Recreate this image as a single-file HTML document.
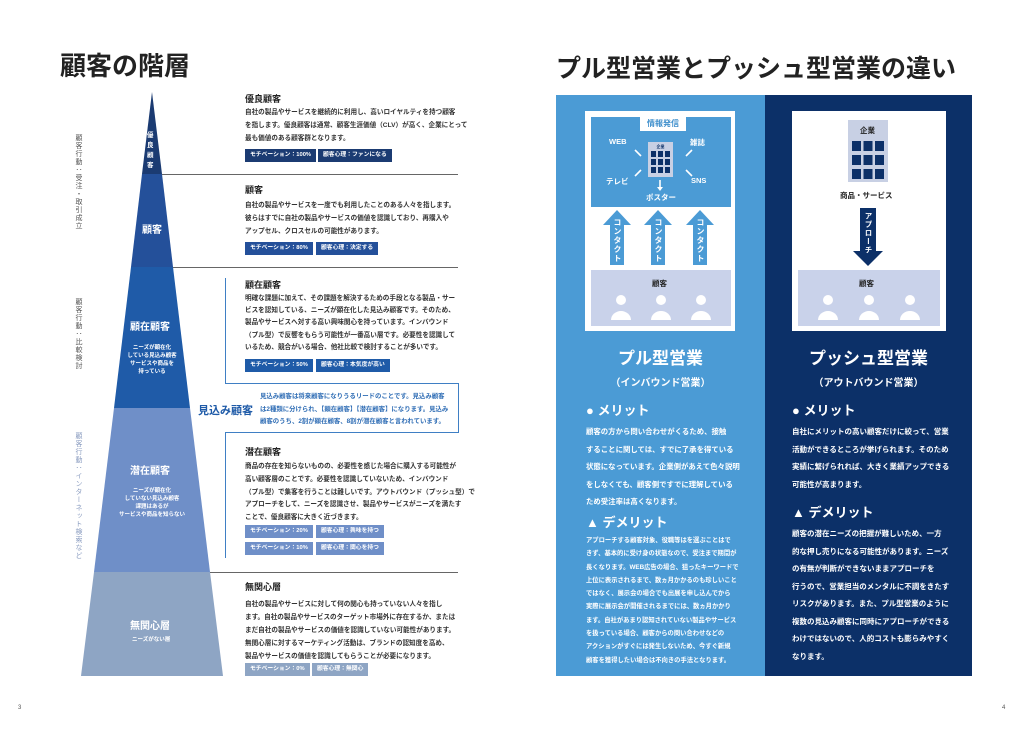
<!DOCTYPE html>
<html><head><meta charset="utf-8"><style>
*{margin:0;padding:0;box-sizing:border-box}
body{width:1024px;height:729px;background:#fff;position:relative;overflow:hidden;font-family:"Liberation Sans","Noto Sans CJK JP",sans-serif;color:#333}
.a{position:absolute;white-space:nowrap}
.h{font-size:9px;font-weight:bold;color:#222}
.b{font-size:6.6px;line-height:13px;color:#333;font-weight:bold}
.t{position:absolute;height:13px;font-size:5.8px;color:#fff;font-weight:bold;line-height:13px;padding:0 5px;white-space:nowrap}
.v{position:absolute;writing-mode:vertical-rl;font-size:7px;letter-spacing:1px}
.w{color:#fff;font-weight:bold}
.vt{position:absolute;writing-mode:vertical-rl;font-size:8px;color:#fff;font-weight:bold;letter-spacing:1px}
</style></head><body>
<div class="a" style="left:60px;top:46px;font-size:26px;font-weight:bold;color:#222">顧客の階層</div>
<div class="a" style="left:556px;top:49px;font-size:25px;font-weight:bold;color:#222">プル型営業とプッシュ型営業の違い</div>

<svg class="a" style="left:0;top:0" width="512" height="729">
<polygon points="152,92 162,174 142,174" fill="#1b3b72"/>
<polygon points="142,174 162,174 173,267 131,267" fill="#24509a"/>
<polygon points="131,267 173,267 190,408 114,408" fill="#1f5ba8"/>
<polygon points="114,408 190,408 210,572 94,572" fill="#6f8fc8"/>
<polygon points="94,572 210,572 223,676 81,676" fill="#8ea5c4"/>
<g stroke="#666" stroke-width="1"><line x1="162" y1="174.5" x2="458" y2="174.5"/><line x1="173" y1="267.5" x2="458" y2="267.5"/><line x1="210" y1="572.5" x2="458" y2="572.5"/></g>
<g stroke="#3f7fc4" stroke-width="1" fill="none"><polyline points="225.5,278 225.5,383.5 458.5,383.5 458.5,432.5 225.5,432.5 225.5,558"/></g>
</svg>
<div class="a w" style="left:147px;top:131px;font-size:6.5px;line-height:10px;width:10px;white-space:normal">優<br>良<br>顧<br>客</div>
<div class="a w" style="left:142px;top:221px;font-size:10px">顧客</div>
<div class="a w" style="left:130px;top:318px;font-size:10px">顧在顧客</div>
<div class="a w" style="left:120px;top:344px;font-size:5.5px;line-height:8px;text-align:center;width:64px;white-space:normal">ニーズが顕在化<br>している見込み顧客<br>サービスや商品を<br>持っている</div>
<div class="a w" style="left:130px;top:462px;font-size:10px">潜在顧客</div>
<div class="a w" style="left:112px;top:487px;font-size:5.5px;line-height:8px;text-align:center;width:80px">ニーズが顕在化<br>していない見込み顧客<br>課題はあるが<br>サービスや商品を知らない</div>
<div class="a w" style="left:130px;top:617px;font-size:10px">無関心層</div>
<div class="a w" style="left:132px;top:635px;font-size:5.5px">ニーズがない層</div>

<div class="v" style="left:73px;top:134px;color:#555">顧客行動：受注・取引成立</div>
<div class="v" style="left:73px;top:298px;color:#555">顧客行動：比較検討</div>
<div class="v" style="left:73px;top:432px;color:#8a9cc0">顧客行動：インターネット検索など</div>

<div class="a h" style="left:245px;top:92px">優良顧客</div>
<div class="a b" style="left:245px;top:106px">自社の製品やサービスを継続的に利用し、高いロイヤルティを持つ顧客<br>を指します。優良顧客は通常、顧客生涯価値（CLV）が高く、企業にとって<br>最も価値のある顧客群となります。</div>
<div class="t" style="left:245px;top:149px;background:#1b3b72">モチベーション：100%</div>
<div class="t" style="left:318px;top:149px;background:#1b3b72">顧客心理：ファンになる</div>

<div class="a h" style="left:245px;top:183px">顧客</div>
<div class="a b" style="left:245px;top:199px">自社の製品やサービスを一度でも利用したことのある人々を指します。<br>彼らはすでに自社の製品やサービスの価値を認識しており、再購入や<br>アップセル、クロスセルの可能性があります。</div>
<div class="t" style="left:245px;top:242px;background:#24509a">モチベーション：80%</div>
<div class="t" style="left:316px;top:242px;background:#24509a">顧客心理：決定する</div>

<div class="a h" style="left:245px;top:278px">顧在顧客</div>
<div class="a b" style="left:245px;top:293px;line-height:12.2px">明確な課題に加えて、その課題を解決するための手段となる製品・サー<br>ビスを認知している、ニーズが顕在化した見込み顧客です。そのため、<br>製品やサービスへ対する高い興味関心を持っています。インバウンド<br>（プル型）で反響をもらう可能性が一番高い層です。必要性を認識して<br>いるため、競合がいる場合、他社比較で検討することが多いです。</div>
<div class="t" style="left:245px;top:359px;background:#1f5ba8">モチベーション：50%</div>
<div class="t" style="left:316px;top:359px;background:#1f5ba8">顧客心理：本気度が高い</div>

<div class="a" style="left:198px;top:402px;font-size:11px;font-weight:bold;color:#1f5ba8">見込み顧客</div>
<div class="a b" style="left:260px;top:391px;line-height:12.5px;color:#2f6db5;font-size:6.4px">見込み顧客は将来顧客になりうるリードのことです。見込み顧客<br>は2種類に分けられ、【顕在顧客】【潜在顧客】になります。見込み<br>顧客のうち、2割が顕在顧客、8割が潜在顧客と言われています。</div>

<div class="a h" style="left:245px;top:445px">潜在顧客</div>
<div class="a b" style="left:245px;top:461px;line-height:12.8px">商品の存在を知らないものの、必要性を感じた場合に購入する可能性が<br>高い顧客層のことです。必要性を認識していないため、インバウンド<br>（プル型）で集客を行うことは難しいです。アウトバウンド（プッシュ型）で<br>アプローチをして、ニーズを認識させ、製品やサービスがニーズを満たす<br>ことで、優良顧客に大きく近づきます。</div>
<div class="t" style="left:245px;top:525px;background:#6f8fc8">モチベーション：20%</div>
<div class="t" style="left:316px;top:525px;background:#6f8fc8">顧客心理：興味を持つ</div>
<div class="t" style="left:245px;top:542px;background:#6f8fc8">モチベーション：10%</div>
<div class="t" style="left:316px;top:542px;background:#6f8fc8">顧客心理：関心を持つ</div>

<div class="a h" style="left:245px;top:580px">無関心層</div>
<div class="a b" style="left:245px;top:598px">自社の製品やサービスに対して何の関心も持っていない人々を指し<br>ます。自社の製品やサービスのターゲット市場外に存在するか、または<br>まだ自社の製品やサービスの価値を認識していない可能性があります。<br>無関心層に対するマーケティング活動は、ブランドの認知度を高め、<br>製品やサービスの価値を認識してもらうことが必要になります。</div>
<div class="t" style="left:245px;top:663px;background:#8ea5c4">モチベーション：0%</div>
<div class="t" style="left:312px;top:663px;background:#8ea5c4">顧客心理：無関心</div>

<div class="a" style="left:18px;top:705px;font-size:6px;color:#555">3</div>
<div class="a" style="left:1002px;top:705px;font-size:6px;color:#555">4</div>

<div class="a" style="left:556px;top:95px;width:209px;height:581px;background:#4b9bd5"></div>
<div class="a" style="left:765px;top:95px;width:207px;height:581px;background:#0c3068"></div>
<div class="a" style="left:585px;top:111px;width:150px;height:220px;background:#fff"></div>
<div class="a" style="left:591px;top:117px;width:140px;height:90px;background:#4b9bd5"></div>
<div class="a" style="left:640px;top:117px;width:46px;height:14px;background:#fff;color:#3f8fcc;font-size:8px;font-weight:bold;text-align:center;line-height:14px">情報発信</div>
<div class="a w" style="left:609px;top:137px;font-size:7.5px">WEB</div>
<div class="a w" style="left:690px;top:137px;font-size:7.5px">雑誌</div>
<div class="a w" style="left:606px;top:176px;font-size:7.5px">テレビ</div>
<div class="a w" style="left:691px;top:176px;font-size:7.5px">SNS</div>
<div class="a w" style="left:646px;top:192px;font-size:7.5px">ポスター</div>
<svg class="a" style="left:585px;top:110px" width="150" height="100">
<g stroke="#fff" stroke-width="1.6"><line x1="50" y1="40" x2="56" y2="46"/><line x1="101" y1="46" x2="107" y2="40"/><line x1="50" y1="66" x2="56" y2="60"/><line x1="101" y1="60" x2="107" y2="66"/><line x1="75" y1="70" x2="75" y2="79"/></g>
<polygon points="72,77 78,77 75,81" fill="#fff"/>
<rect x="63" y="32" width="25" height="35" fill="#c8d0e4"/>
<text x="75.5" y="38" font-size="4" text-anchor="middle" fill="#0c3068" font-weight="bold">企業</text>
<g fill="#0c3068"><rect x="66" y="41" width="5" height="6"/><rect x="73" y="41" width="5" height="6"/><rect x="80" y="41" width="5" height="6"/><rect x="66" y="49" width="5" height="6"/><rect x="73" y="49" width="5" height="6"/><rect x="80" y="49" width="5" height="6"/><rect x="66" y="57" width="5" height="6"/><rect x="73" y="57" width="5" height="6"/><rect x="80" y="57" width="5" height="6"/></g>
</svg>
<svg class="a" style="left:585px;top:205px" width="150" height="125">
<g fill="#4b9bd5"><polygon points="32,5 46,20 39,20 39,60 25,60 25,20 18,20"/><polygon points="73,5 87,20 80,20 80,60 66,60 66,20 59,20"/><polygon points="115,5 129,20 122,20 122,60 108,60 108,20 101,20"/></g>
<rect x="6" y="65" width="140" height="56" fill="#c9d2ea"/>
<g fill="#fff"><circle cx="36" cy="95" r="5"/><path d="M26,115 a10,9 0 0 1 20,0z"/><circle cx="76" cy="95" r="5"/><path d="M66,115 a10,9 0 0 1 20,0z"/><circle cx="116" cy="95" r="5"/><path d="M106,115 a10,9 0 0 1 20,0z"/></g>
</svg>
<div class="vt" style="left:612px;top:218px">コンタクト</div>
<div class="vt" style="left:653px;top:218px">コンタクト</div>
<div class="vt" style="left:695px;top:218px">コンタクト</div>
<div class="a" style="left:652px;top:278px;font-size:7.5px;font-weight:bold;color:#222">顧客</div>

<div class="a" style="left:792px;top:111px;width:154px;height:220px;background:#fff"></div>
<svg class="a" style="left:792px;top:111px" width="154" height="220">
<rect x="56" y="9" width="40" height="62" fill="#c8d0e4"/>
<g fill="#0c3068"><rect x="60" y="30" width="9" height="10"/><rect x="71.5" y="30" width="9" height="10"/><rect x="83" y="30" width="9" height="10"/><rect x="60" y="44" width="9" height="10"/><rect x="71.5" y="44" width="9" height="10"/><rect x="83" y="44" width="9" height="10"/><rect x="60" y="58" width="9" height="10"/><rect x="71.5" y="58" width="9" height="10"/><rect x="83" y="58" width="9" height="10"/></g>
<polygon points="68,97 84,97 84,140 91,140 76,155 61,140 68,140" fill="#0c3068"/>
<rect x="6" y="159" width="142" height="56" fill="#c9d2ea"/>
<g fill="#fff"><circle cx="36" cy="189" r="5"/><path d="M26,209 a10,9 0 0 1 20,0z"/><circle cx="77" cy="189" r="5"/><path d="M67,209 a10,9 0 0 1 20,0z"/><circle cx="118" cy="189" r="5"/><path d="M108,209 a10,9 0 0 1 20,0z"/></g>
</svg>
<div class="a" style="left:860px;top:125px;font-size:7.5px;font-weight:bold;color:#222">企業</div>
<div class="a" style="left:840px;top:190px;font-size:7.5px;font-weight:bold;color:#222">商品・サービス</div>
<div class="vt" style="left:863px;top:212px;font-size:7.5px">アプローチ</div>
<div class="a" style="left:859px;top:278px;font-size:7.5px;font-weight:bold;color:#222">顧客</div>

<div class="a w" style="left:556px;width:209px;text-align:center;top:344px;font-size:17px">プル型営業</div>
<div class="a w" style="left:556px;width:209px;text-align:center;top:374px;font-size:10px">（インバウンド営業）</div>
<div class="a w" style="left:765px;width:207px;text-align:center;top:344px;font-size:17px">プッシュ型営業</div>
<div class="a w" style="left:765px;width:207px;text-align:center;top:374px;font-size:10px">（アウトバウンド営業）</div>

<div class="a w" style="left:586px;top:400px;font-size:13px">● メリット</div>
<div class="a w" style="left:586px;top:423px;font-size:7.4px;line-height:17.5px">顧客の方から問い合わせがくるため、接触<br>することに関しては、すでに了承を得ている<br>状態になっています。企業側があえて色々説明<br>をしなくても、顧客側ですでに理解している<br>ため受注率は高くなります。</div>
<div class="a w" style="left:586px;top:512px;font-size:13px">▲ デメリット</div>
<div class="a w" style="left:586px;top:534px;font-size:6.3px;line-height:13.3px">アプローチする顧客対象、役職等はを選ぶことはで<br>きず、基本的に受け身の状態なので、受注まで期間が<br>長くなります。WEB広告の場合、狙ったキーワードで<br>上位に表示されるまで、数ヵ月かかるのも珍しいこと<br>ではなく、展示会の場合でも出展を申し込んでから<br>実際に展示会が開催されるまでには、数ヵ月かかり<br>ます。自社があまり認知されていない製品やサービス<br>を扱っている場合、顧客からの問い合わせなどの<br>アクションがすぐには発生しないため、今すぐ新規<br>顧客を獲得したい場合は不向きの手法となります。</div>

<div class="a w" style="left:792px;top:400px;font-size:13px">● メリット</div>
<div class="a w" style="left:792px;top:423px;font-size:7.5px;line-height:17.5px">自社にメリットの高い顧客だけに絞って、営業<br>活動ができるところが挙げられます。そのため<br>実績に繋げられれば、大きく業績アップできる<br>可能性が高まります。</div>
<div class="a w" style="left:792px;top:502px;font-size:13px">▲ デメリット</div>
<div class="a w" style="left:792px;top:525px;font-size:7.5px;line-height:17.5px">顧客の潜在ニーズの把握が難しいため、一方<br>的な押し売りになる可能性があります。ニーズ<br>の有無が判断ができないままアプローチを<br>行うので、営業担当のメンタルに不調をきたす<br>リスクがあります。また、プル型営業のように<br>複数の見込み顧客に同時にアプローチができる<br>わけではないので、人的コストも膨らみやすく<br>なります。</div>
</body></html>
